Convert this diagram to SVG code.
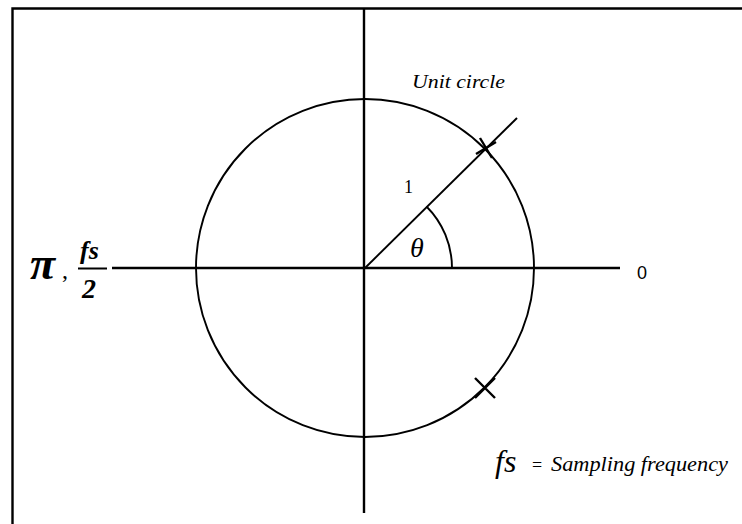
<svg xmlns="http://www.w3.org/2000/svg" width="742" height="524" viewBox="0 0 742 524">
<style>
.ln{stroke:#000;fill:none;stroke-width:2.4}
.thin{stroke:#000;fill:none;stroke-width:1.9}
text{font-family:'Liberation Serif','Times New Roman',serif;fill:#000}
.it{font-style:italic}
.sans{font-family:'Liberation Sans',Arial,sans-serif}
</style>
<rect width="742" height="524" fill="#fff"/>
<g id="frame">
<path class="ln" d="M742 8.5 H12.5 V524"/>
</g>
<g id="connectors">
<line class="ln" x1="112" y1="268" x2="620" y2="268"/>
<line class="ln" x1="364" y1="9" x2="364" y2="513"/>
<line class="thin" x1="365" y1="268" x2="517" y2="118"/>
</g>
<g id="unit-circle">
<circle class="thin" cx="365" cy="268" r="169"/>
<path class="thin" d="M452 268 A87 87 0 0 0 426.5 206.5"/>
<path class="ln" d="M480 138 L492 158 M476 154 L496 142"/>
<path class="ln" d="M475 378 L495 398 M475 398 L495 378"/>
</g>
<g id="labels">
<text class="it" x="412" y="88" font-size="19" textLength="93" lengthAdjust="spacingAndGlyphs">Unit circle</text>
<text x="404" y="193" font-size="18">1</text>
<text class="it" x="410" y="257" font-size="28">θ</text>
<text class="sans" x="637" y="279" font-size="18">0</text>
<text class="it" x="30" y="279" font-size="46" font-weight="bold">π</text>
<text x="62" y="278" font-size="24">,</text>
<text class="it" x="80" y="259" font-size="26" font-weight="bold">fs</text>
<line x1="78" y1="268.5" x2="107" y2="268.5" stroke="#000" stroke-width="2"/>
<text class="it" x="82" y="298" font-size="28" font-weight="bold">2</text>
<g id="legend">
<text class="it" x="495" y="472" font-size="32">fs</text>
<text x="532" y="471" font-size="18">=</text>
<text class="it" x="551" y="471" font-size="21" textLength="177" lengthAdjust="spacingAndGlyphs">Sampling frequency</text>
</g>
</g>
</svg>
